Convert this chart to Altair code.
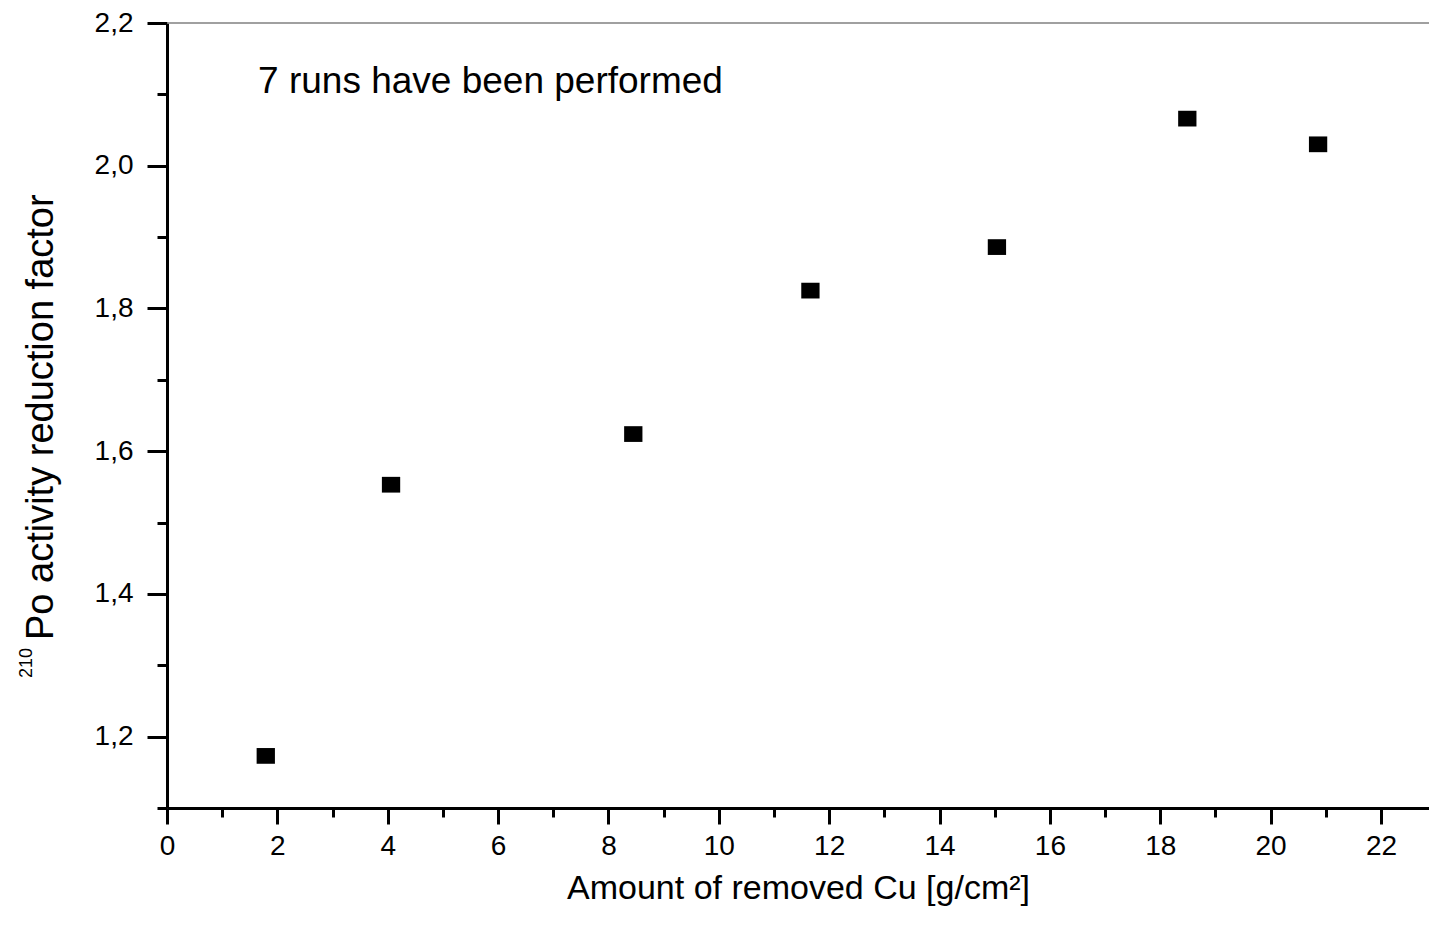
import altair as alt
import pandas as pd

# Data
removed_cu = [1.79, 4.06, 8.45, 11.66, 15.04, 18.49, 20.86]
reduction = [1.173, 1.553, 1.624, 1.825, 1.886, 2.066, 2.030]

x_ticks = list(range(0, 23))
y_ticks = [1.1, 1.2, 1.3, 1.4, 1.5, 1.6, 1.7, 1.8, 1.9, 2.0, 2.1, 2.2]

annotation = "7 runs have been performed"
x_title = "Amount of removed Cu [g/cm²]"
y_title_main = "Po activity reduction factor"
y_title_sup = "210"

df = pd.DataFrame({"x": removed_cu, "y": reduction})

FONT = "Liberation Sans"

x_scale = alt.Scale(domain=[0, 22.87], nice=False, zero=False)
y_scale = alt.Scale(domain=[1.1, 2.2], nice=False, zero=False)

x_axis = alt.Axis(
    values=x_ticks,
    labelExpr="datum.value % 2 == 0 ? datum.label : ''",
    tickSize={"condition": {"test": "datum.value % 2 == 0", "value": 16}, "value": 9},
    tickWidth=3, tickColor="black",
    domainWidth=3, domainColor="black",
    labelFont=FONT, labelFontSize=28, labelColor="black", labelPadding=8,
    labelFlush=False, labelOverlap=False,
    title=x_title, titleFont=FONT, titleFontSize=34, titleFontWeight="normal",
    titleColor="black", titlePadding=11, grid=False,
)

y_axis = alt.Axis(
    values=y_ticks,
    labelExpr="round(datum.value*10) % 2 == 0 ? replace(format(datum.value, '.1f'), '.', ',') : ''",
    tickSize={"condition": {"test": "round(datum.value*10) % 2 == 0", "value": 20}, "value": 10},
    tickWidth=3, tickColor="black",
    domainWidth=3, domainColor="black",
    labelFont=FONT, labelFontSize=28, labelColor="black", labelPadding=14,
    labelFlush=False, labelOverlap=False,
    title=None, grid=False,
)

points = alt.Chart(df).mark_point(
    shape="M-1,-0.86H1V0.86H-1Z", filled=True, fill="black", stroke=None,
    opacity=1, size=335,
).encode(
    x=alt.X("x:Q", scale=x_scale, axis=x_axis),
    y=alt.Y("y:Q", scale=y_scale, axis=y_axis),
)

top_line = alt.Chart(pd.DataFrame({"y": [2.2]})).mark_rule(
    color="#808080", strokeWidth=1.5
).encode(y=alt.Y("y:Q", scale=y_scale))

label = alt.Chart(pd.DataFrame({"x": [1.65], "y": [2.102], "t": [annotation]})).mark_text(
    align="left", baseline="alphabetic", font=FONT, fontSize=37, color="black"
).encode(
    x=alt.X("x:Q", scale=x_scale),
    y=alt.Y("y:Q", scale=y_scale),
    text="t:N",
)

# Y-axis title with a real superscript (placed in the left margin)
y_title_text = alt.Chart(pd.DataFrame({"t": [y_title_main]})).mark_text(
    align="left", baseline="alphabetic", angle=270, font=FONT, fontSize=38, color="black"
).encode(
    x=alt.value(-114), y=alt.value(617), text="t:N"
)
y_title_super = alt.Chart(pd.DataFrame({"t": [y_title_sup]})).mark_text(
    align="left", baseline="alphabetic", angle=270, font=FONT, fontSize=18, color="black"
).encode(
    x=alt.value(-135), y=alt.value(655), text="t:N"
)

chart = alt.layer(top_line, points, label, y_title_text, y_title_super).properties(
    width=1262, height=785,
    autosize=alt.AutoSizeParams(type="none"),
    padding={"left": 167, "top": 23, "right": 0, "bottom": 126},
    background="white",
).configure_view(stroke=None)

chart.save("out.html", embed_options={"renderer": "svg", "actions": False})
